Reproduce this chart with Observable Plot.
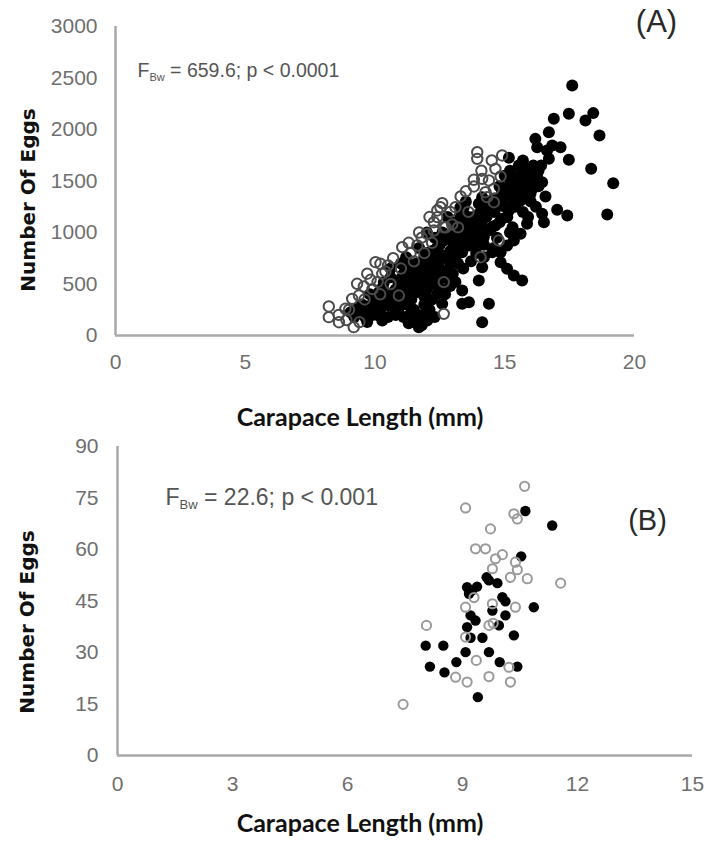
<!DOCTYPE html>
<html>
<head>
<meta charset="utf-8">
<script src="https://cdn.jsdelivr.net/npm/d3@7"></script>
<script src="https://cdn.jsdelivr.net/npm/@observablehq/plot@0.6"></script>
<style>
  html, body { margin: 0; padding: 0; background: #fff; }
  #chart svg { display: block; overflow: visible; }
</style>
</head>
<body>
<div id="chart"></div>
<script>
// ---------- Panel A data ----------
const aFilled = [
  [17.6,2427],[16.89,2104],[17.47,2152],[18.41,2159],[18.11,2087],[18.65,1942],[16.7,1974],[16.18,1909],[16.25,1828],[16.63,1796],[16.83,1845],[17.15,1828],[16.7,1715],[17.47,1706],[18.33,1618],[19.18,1479],[18.95,1175],[17.41,1165],[17.02,1220],[16.44,1181],[16.51,1100],[16.57,1350],
  [15.16,1725],[15.54,1650],[15.73,1602],[15.99,1586],[16.25,1537],[16.44,1488],[16.12,1456],[15.8,1456],[15.48,1505],[15.29,1521],[15.73,1375],[15.99,1375],[15.61,1311],[15.35,1311],[14.96,1408],[15.9,1500],[16.05,1420],[15.6,1560],[15.4,1450],[16.3,1600],[15.2,1600],
  [14.9,1278],[15.16,1214],[14.9,1133],[14.64,1068],[14.39,1019],[14.19,955],[14.0,955],[13.81,890],[13.62,874],[13.36,809],[13.1,760],[14.0,1278],[14.13,1343],[13.42,1246],[13.29,1246],[13.55,1084],[13.7,1000],[13.9,1050],[14.3,1150],[14.6,1200],[15.0,1350],[14.5,1300],[13.8,1150],[13.3,950],[13.0,900],[13.2,700],[12.9,820],[12.7,750],[12.65,922],[12.4,858],[12.2,777],[11.95,696],[11.69,631],[11.5,550],[11.24,502],[10.98,437],[10.85,307],[12.5,650],[12.3,600],[12.1,550],[12.8,620],[13.0,600],[12.9,480],[12.6,450],[12.4,405],[12.59,307],[12.0,450],[11.8,500],[11.9,380],[11.6,420],[11.4,350],[11.2,300],[12.2,350],[12.1,250],
  [15.86,1084],[15.61,987],[15.35,922],[15.09,874],[14.84,809],[14.52,809],[14.84,712],[15.09,647],[15.35,582],[15.67,534],[14.13,663],[14.0,534],[13.36,437],[13.36,308],[13.62,323],[14.39,308],[14.13,129],[14.58,850],[15.2,1000],
  [9.06,226],[9.38,226],[9.63,178],[9.76,282],[9.95,340],[10.15,421],[10.34,518],[10.6,566],[10.53,291],[10.28,146],[11.37,210],[11.63,146],[11.69,81],[12.01,146],[11.8,200],[10.0,250],[10.2,300],[10.4,380],[10.7,420],[10.9,520],[11.1,600],[11.3,450],[10.8,200],[9.5,300],[9.2,180],[10.1,200],[11.0,700],[11.4,680],[11.2,760],[12.0,800],[11.7,850],[12.3,950],[12.6,1000],[13.0,1100],[13.3,1150],[11.5,250],[12.3,180],
  [11.0,550],[11.3,620],[11.6,700],[11.9,760],[12.2,820],[12.5,880],[12.8,950],[13.1,1000],[13.4,1050],[13.7,1120],[14.0,1180],[14.3,1250],[14.6,1330],[14.9,1400],[15.2,1470],[15.5,1420],[15.8,1550],[16.1,1650],[10.6,650],[10.9,350],[11.2,400],[11.5,480],[11.8,600],[12.1,680],[12.4,720],[12.7,560],[13.0,780],[13.3,850],[13.6,950],[13.9,800],[14.2,880],[14.5,1050],[14.8,1100],[15.1,1150],[15.4,1250],[15.7,1200],[16.0,1300],[16.3,1450],[9.8,400],[10.3,470],[10.7,280],[11.1,180],[11.9,300],[12.3,500],[12.7,400],[13.1,520],[13.4,650],[13.7,720],[14.2,760],[12.0,1000],[12.8,1150],[13.5,1300],[14.0,1050],[14.7,950],[15.3,1050],[15.5,1350],[16.2,1250],[15.9,1150],
  [9.3,260],[9.6,240],[9.9,200],[10.2,250],[10.5,350],[10.8,450],[11.1,500],[11.4,560],[11.7,560],[12.0,620],[12.3,680],[12.6,780],[12.9,700],[13.2,900],[13.5,1000],[13.8,1000],[14.1,1100],[14.4,1200],[14.7,1250],[15.0,1250],[15.3,1380],[15.6,1450],[15.9,1620],[16.2,1550],[11.3,120],[11.8,100],[12.5,550],[13.1,850],[13.6,1150],[14.8,1450],[10.5,180],[9.7,130],[10.9,260],[12.0,350],[13.9,900],[15.0,1550],[16.4,1650],[15.7,1700]
];
const aOpen = [
  [8.22,282],[8.22,178],[8.61,129],[9.18,81],[8.86,259],[9.31,502],[9.57,476],[9.83,541],[10.02,712],[10.21,696],[10.5,680],[10.28,599],[9.12,356],[9.38,388],[11.05,858],[11.37,799],[11.63,874],[12.59,1285],[12.4,1214],[12.27,1019],[12.01,987],[12.65,1051],[12.65,518],[12.65,210],[10.92,388],
  [13.94,1780],[13.94,1715],[14.9,1748],[14.64,1618],[13.81,1512],[14.13,1521],[13.81,1447],[14.39,1505],[14.84,1544],[14.26,1391],[14.58,1424],[14.32,1343],[14.58,1294],[13.1,1246],[12.52,1246],[12.4,1149],[12.27,1100],[12.72,1051],[12.97,1078],[14.77,922],[14.07,760],
  [9.7,600],[9.9,450],[10.1,520],[10.4,620],[10.7,750],[11.0,650],[11.3,900],[11.8,950],[12.1,1150],[12.9,1200],[13.3,1350],[13.5,1400],[13.2,1050],[8.9,150],[9.0,250],[9.4,130],[11.5,720],[10.6,500],[11.9,800],[13.6,1200],[14.1,1600],[14.5,1700],[10.2,400],[9.6,350],[8.6,200],[12.2,900],[11.7,1000]
];
const aXTicks = [0, 5, 10, 15, 20];
const aYTicks = [0, 500, 1000, 1500, 2000, 2500, 3000];

// ---------- Panel B data ----------
const bFilled = [
  [10.64,71.2],[11.34,67.0],[10.53,58.0],[9.63,51.9],[9.69,51.0],[9.91,50.2],[9.12,49.0],[9.25,48.1],[9.38,49.2],[9.17,47.1],[10.04,46.1],[10.12,44.9],[10.86,43.2],[9.78,42.2],[10.12,40.8],[9.21,40.8],[9.34,39.3],[9.95,37.9],[9.12,37.4],[9.21,34.3],[9.52,34.3],[10.34,35.0],[8.04,32.0],[8.5,32.0],[9.08,30.1],[9.69,30.1],[8.84,27.2],[9.97,27.2],[8.15,25.9],[8.53,24.2],[10.43,25.9],[9.4,17.0]
];
const bOpen = [
  [10.62,78.4],[9.08,72.1],[10.34,70.4],[10.43,68.9],[9.73,66.0],[9.34,60.2],[9.6,60.2],[9.86,57.3],[10.04,58.5],[9.78,54.4],[10.38,56.3],[10.43,54.1],[10.25,51.9],[10.69,51.5],[11.56,50.2],[9.08,43.2],[9.78,44.2],[10.38,43.2],[8.06,37.9],[9.69,37.9],[9.08,34.5],[9.36,27.7],[8.82,22.8],[9.12,21.4],[9.69,23.0],[10.25,21.4],[10.21,25.7],[7.45,14.9],[9.3,46.0],[9.8,38.5]
];
const bXTicks = [0, 3, 6, 9, 12, 15];
const bYTicks = [0, 15, 30, 45, 60, 75, 90];

const xTitle = "Carapace Length (mm)";
const yTitle = "Number Of Eggs";

const tickFont = "'Liberation Sans', Arial, sans-serif";
const axisGray = "#a9a9a9";
const tickGray = "#6f6f6f";

function panel({filled, open, xDomain, yDomain, xTicks, yTicks, height, margins, openStroke, openStrokeWidth, rFilled, rOpen, ann, annFont, annDx, annDy, letter, letterFont, letterDx, letterDy, xTitleDx, xTitleDy, yTitleDx, yTitleDy, xPad, yPad}) {
  const svg = Plot.plot({
    width: 707,
    height,
    marginTop: margins[0], marginRight: margins[1], marginBottom: margins[2], marginLeft: margins[3],
    x: {domain: xDomain},
    y: {domain: yDomain},
    style: {fontFamily: tickFont, background: "#fff"},
    marks: [
      Plot.axisX(xTicks, {tickSize: 0, tickPadding: xPad, fontSize: 21, fontFamily: tickFont, fill: tickGray, label: null, tickFormat: d => String(d)}),
      Plot.axisY(yTicks, {tickSize: 0, tickPadding: yPad, fontSize: 21, fontFamily: tickFont, fill: tickGray, label: null, tickFormat: d => String(d)}),
      Plot.ruleY([0], {x1: xDomain[0], x2: xDomain[1], stroke: axisGray, strokeWidth: 2.5}),
      Plot.ruleX([0], {y1: yDomain[0], y2: yDomain[1], stroke: axisGray, strokeWidth: 2.5}),
      Plot.dot(filled, {x: d => d[0], y: d => d[1], r: rFilled, fill: "#000", stroke: "none"}),
      Plot.dot(open, {x: d => d[0], y: d => d[1], r: rOpen, fill: "none", stroke: openStroke, strokeWidth: openStrokeWidth}),
      Plot.text([xTitle], {text: d => d, frameAnchor: "bottom", dx: xTitleDx, dy: xTitleDy, fontSize: 25, fontWeight: "bold", fontFamily: "Lato, 'Open Sans', sans-serif", fill: "#111", lineAnchor: "middle"}),
      Plot.text([yTitle], {text: d => d, frameAnchor: "left", dx: yTitleDx, dy: yTitleDy, rotate: -90, fontSize: 20, fontWeight: "bold", fontFamily: "'DejaVu Sans', Verdana, sans-serif", fill: "#111", textAnchor: "middle", lineAnchor: "middle"}),
      Plot.text([letter], {text: d => d, frameAnchor: "top-right", dx: letterDx, dy: letterDy, fontSize: letterFont, fontFamily: tickFont, fill: "#2a2a2a", textAnchor: "middle", lineAnchor: "middle"}),
      Plot.text([ann.rest], {text: d => d, frameAnchor: "top-left", dx: annDx, dy: annDy, fontSize: annFont, fontFamily: tickFont, fill: "#555", textAnchor: "start", lineAnchor: "middle"})
    ]
  });
  // add subscript to the statistics annotation
  const t = d3.select(svg).selectAll("text").filter(function() { return this.textContent === ann.rest; });
  t.text(null);
  t.append("tspan").text(ann.main);
  t.append("tspan").attr("font-size", Math.round(annFont * 0.55)).attr("dy", 4).text(ann.sub);
  t.append("tspan").attr("dy", -4).text(" " + ann.rest);
  return svg;
}

const panelA = panel({
  filled: aFilled, open: aOpen,
  xDomain: [0, 20], yDomain: [0, 3000], xTicks: aXTicks, yTicks: aYTicks,
  height: 425, margins: [26, 73, 90, 115],
  openStroke: "#4a4a4a", openStrokeWidth: 2, rFilled: 6, rOpen: 5.2,
  ann: {main: "F", sub: "Bw", rest: "= 659.6; p < 0.0001"}, annFont: 19.5, annDx: 22, annDy: 44,
  letter: "(A)", letterFont: 31, letterDx: 22, letterDy: -4,
  xTitleDx: -15, xTitleDy: 82, yTitleDx: -87, yTitleDy: 19, xPad: 19, yPad: 18
});
const panelB = panel({
  filled: bFilled, open: bOpen,
  xDomain: [0, 15], yDomain: [0, 90], xTicks: bXTicks, yTicks: bYTicks,
  height: 417, margins: [21, 15, 87, 117],
  openStroke: "#9a9a9a", openStrokeWidth: 2, rFilled: 5.2, rOpen: 4.6,
  ann: {main: "F", sub: "Bw", rest: "= 22.6; p < 0.001"}, annFont: 23, annDx: 48, annDy: 51,
  letter: "(B)", letterFont: 29, letterDx: -45, letterDy: 74,
  xTitleDx: -45, xTitleDy: 68, yTitleDx: -90, yTitleDy: 21, xPad: 21, yPad: 19
});
document.getElementById("chart").append(panelA, panelB);
</script>
</body>
</html>
